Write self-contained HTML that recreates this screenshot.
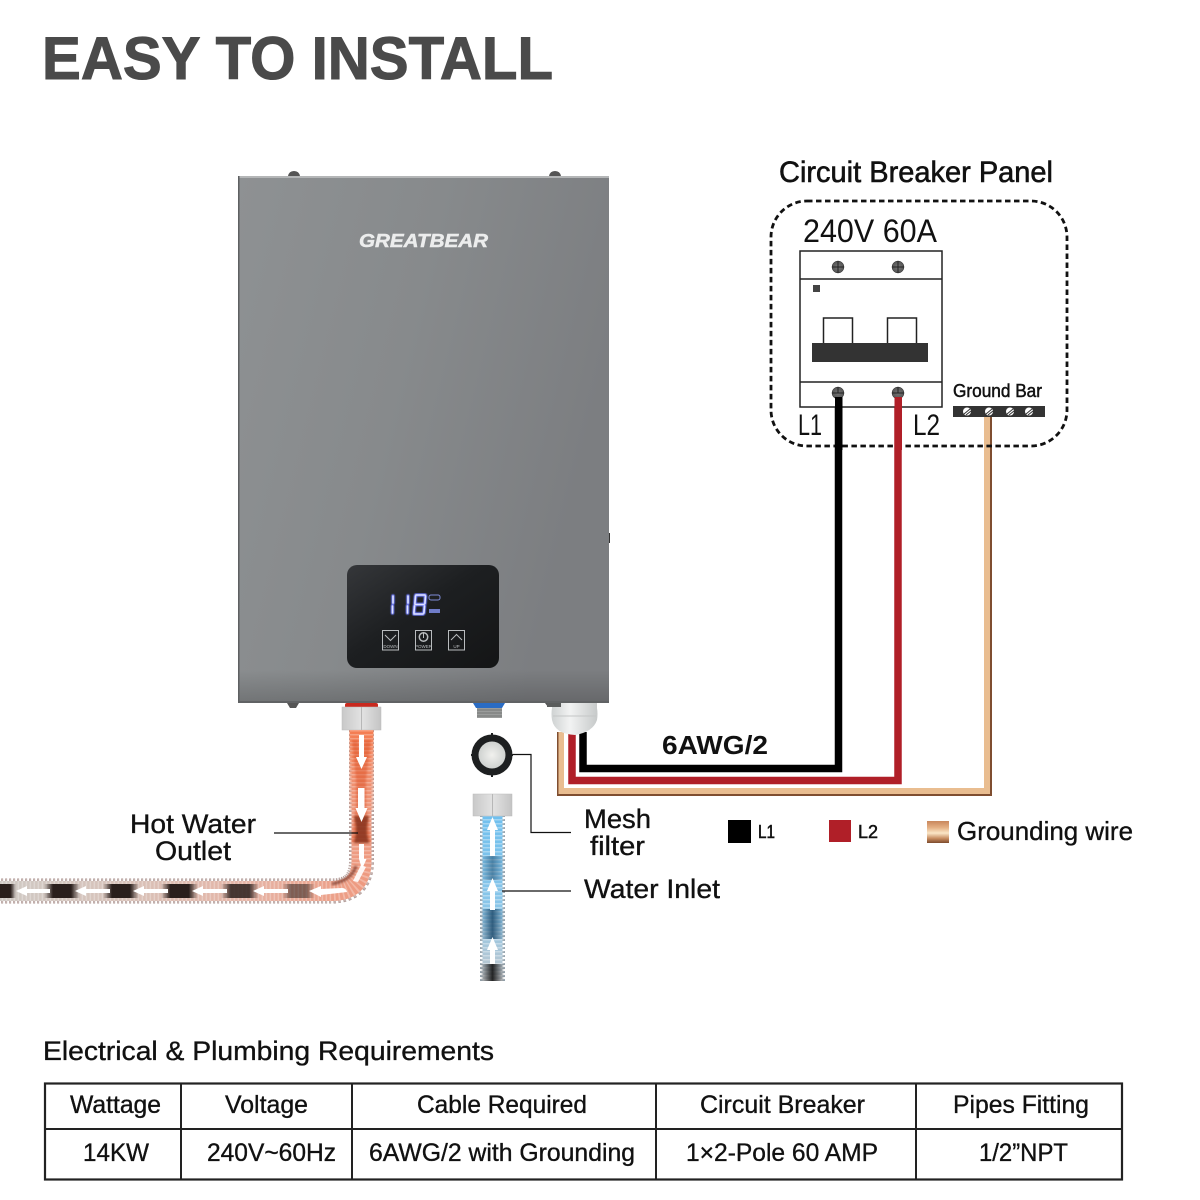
<!DOCTYPE html>
<html><head><meta charset="utf-8"><style>
html,body{margin:0;padding:0;background:#fff}
svg{display:block}
text{font-family:"Liberation Sans",sans-serif;fill:#111}
.s{stroke:#111;stroke-width:.35}
</style></head><body>
<svg width="1200" height="1200" viewBox="0 0 1200 1200" xmlns="http://www.w3.org/2000/svg">
<defs>
<linearGradient id="body" x1="0" y1="0" x2="1" y2="0.35">
<stop offset="0" stop-color="#8e9193"/><stop offset=".5" stop-color="#878a8c"/><stop offset="1" stop-color="#7c7e81"/>
</linearGradient>
<linearGradient id="bottom" x1="0" y1="0" x2="0" y2="1">
<stop offset="0" stop-color="#000" stop-opacity="0"/><stop offset="1" stop-color="#000" stop-opacity=".18"/>
</linearGradient>
<linearGradient id="disp" x1="0" y1="0" x2="1" y2="1">
<stop offset="0" stop-color="#35373a"/><stop offset=".45" stop-color="#1d1f21"/><stop offset="1" stop-color="#141516"/>
</linearGradient>
<linearGradient id="hot" gradientUnits="userSpaceOnUse" x1="361" y1="0" x2="0" y2="0">
<stop offset="0" stop-color="#ee9a80"/><stop offset=".3" stop-color="#e6b3a4"/><stop offset=".65" stop-color="#d8c2b9"/><stop offset="1" stop-color="#cfc9c4"/>
</linearGradient>
<linearGradient id="hotv" gradientUnits="userSpaceOnUse" x1="0" y1="730" x2="0" y2="860">
<stop offset="0" stop-color="#f47c50"/><stop offset="1" stop-color="#ee9a80" stop-opacity="0"/>
</linearGradient>
<linearGradient id="blue" gradientUnits="userSpaceOnUse" x1="0" y1="815" x2="0" y2="981">
<stop offset="0" stop-color="#70c0ee"/><stop offset=".6" stop-color="#8cc6e8"/><stop offset="1" stop-color="#c4c8cc"/>
</linearGradient>
<linearGradient id="metal" x1="0" y1="0" x2="1" y2="0">
<stop offset="0" stop-color="#c8c8c8"/><stop offset=".49" stop-color="#e2e2e2"/><stop offset=".5" stop-color="#8f8f8f"/><stop offset=".52" stop-color="#e2e2e2"/><stop offset="1" stop-color="#c4c4c4"/>
</linearGradient>
<linearGradient id="gland" x1="0" y1="0" x2="1" y2="0">
<stop offset="0" stop-color="#cfd2d2"/><stop offset=".4" stop-color="#f2f3f3"/><stop offset="1" stop-color="#c6c9c9"/>
</linearGradient>
<linearGradient id="cop" x1="0" y1="0" x2="0" y2="1">
<stop offset="0" stop-color="#c9875c"/><stop offset=".3" stop-color="#e4b084"/><stop offset=".55" stop-color="#fbe6c6"/><stop offset=".8" stop-color="#c58a5e"/><stop offset="1" stop-color="#7c4a2c"/>
</linearGradient>
<linearGradient id="hgH" x1="0" y1="0" x2="1" y2="0">
<stop offset="0" stop-color="#2a1f1c" stop-opacity="0"/><stop offset=".25" stop-color="#2a1f1c"/><stop offset=".75" stop-color="#2a1f1c"/><stop offset="1" stop-color="#2a1f1c" stop-opacity="0"/>
</linearGradient>
<linearGradient id="hgV" x1="0" y1="0" x2="1" y2="0">
<stop offset="0" stop-color="#1d4a6c" stop-opacity="0"/><stop offset=".5" stop-color="#1d4a6c"/><stop offset="1" stop-color="#1d4a6c" stop-opacity="0"/>
</linearGradient>
<linearGradient id="hgK" x1="0" y1="0" x2="1" y2="0">
<stop offset="0" stop-color="#111" stop-opacity="0"/><stop offset=".5" stop-color="#111"/><stop offset="1" stop-color="#111" stop-opacity="0"/>
</linearGradient>
<radialGradient id="screw"><stop offset="0" stop-color="#777"/><stop offset="1" stop-color="#555"/></radialGradient>
<radialGradient id="mesh"><stop offset="0" stop-color="#f1f1ee"/><stop offset="1" stop-color="#cfd2d0"/></radialGradient>
<filter id="b1"><feGaussianBlur stdDeviation="1"/></filter>
<filter id="glow"><feGaussianBlur stdDeviation="0.5"/></filter>
</defs>

<text x="42" y="79" font-size="60" font-weight="700" textLength="511" lengthAdjust="spacingAndGlyphs" style="fill:#4a4a4a;stroke:#4a4a4a;stroke-width:1">EASY TO INSTALL</text>

<!-- heater -->
<path d="M288 176q1-5 6-5t6 5zM549 176q1-5 6-5t6 5z" fill="#555"/>
<rect x="607" y="533" width="3" height="10" fill="#333"/>
<path d="M287 703h12l-3 5h-6zM545 703h12l-3 4h-6z" fill="#555"/>
<rect x="238" y="176" width="371" height="527" fill="url(#body)"/>
<rect x="238" y="670" width="371" height="33" fill="url(#bottom)"/>
<rect x="238" y="176" width="371" height="2" fill="#b4b6b7"/>
<rect x="238" y="176" width="1.500" height="527" fill="#5e6062"/>
<rect x="238" y="701" width="371" height="2" fill="#606264"/>
<text x="359" y="247" font-size="18" font-weight="700" font-style="italic" textLength="129" lengthAdjust="spacingAndGlyphs" style="fill:#eceded;stroke:#eceded;stroke-width:.5">GREATBEAR</text>

<rect x="347" y="565" width="152" height="103" rx="10" fill="url(#disp)"/>
<g stroke="#6f7dff" stroke-width="3.400" fill="none" stroke-linecap="round" filter="url(#glow)">
<path d="M393 596v7M392.500 606v7M408 596v7M407.500 606v7"/>
<path d="M416 595h9M415 604.500h9M414 614h9M415.500 596l-.6 7.500M425.500 596l-.6 7.500M414.500 606l-.6 7M424.500 606l-.6 7"/>
</g>
<g stroke="#dfe3ff" stroke-width="1.600" fill="none" stroke-linecap="round">
<path d="M393 596v7M392.500 606v7M408 596v7M407.500 606v7"/>
<path d="M416 595h9M415 604.500h9M414 614h9M415.500 596l-.6 7.500M425.500 596l-.6 7.500M414.500 606l-.6 7M424.500 606l-.6 7"/>
</g>
<rect x="429" y="595" width="11" height="5" rx="2" fill="none" stroke="#7f8cd8" stroke-width="1"/>
<rect x="429" y="609" width="11" height="4" fill="#6f7cc8"/>
<g fill="none" stroke="#b9bcbe" stroke-width="1">
<rect x="382.500" y="630.500" width="16" height="19.500"/><path d="M385 635l5.500 5.500 5.500-5.500"/>
<rect x="415.500" y="630.500" width="16" height="19.500"/><circle cx="423.500" cy="637" r="4.200" stroke-width="1.500"/><path d="M423.500 633v5"/>
<rect x="448.500" y="630.500" width="16" height="19.500"/><path d="M451 640l5.500-5.500 5.500 5.500"/>
</g>
<g font-size="4.500" text-anchor="middle">
<text x="390.500" y="648" style="fill:#b9bcbe">DOWN</text>
<text x="423.500" y="648" style="fill:#b9bcbe">POWER</text>
<text x="456.500" y="648" style="fill:#b9bcbe">UP</text>
</g>

<!-- ports -->
<rect x="345" y="703" width="33" height="5" rx="2" fill="#c9291e"/>
<rect x="342" y="707" width="39" height="23" fill="url(#metal)" stroke="#bbb" stroke-width=".5"/>
<path d="M473 703h32l-3 5h-26z" fill="#2a6cc4"/>
<rect x="477" y="708" width="25" height="10" fill="#9a9c9b"/>
<path d="M477 710h25M477 713h25M477 716h25" stroke="#747675" stroke-width="1"/>
<circle cx="492" cy="755" r="20.500" fill="#1d1f20"/>
<circle cx="492" cy="755" r="13.500" fill="url(#mesh)"/>
<path d="M492 733v3M492 774v3M471 755h3M510 755h3" stroke="#1d1f20" stroke-width="2"/>

<!-- wires -->
<path d="M561 732V792H988V415" fill="none" stroke="#7f4e30" stroke-width="8"/>
<path d="M561.500 732V791H987V415" fill="none" stroke="#e9bd90" stroke-width="6"/>
<path d="M572 732V780.500H898V397" fill="none" stroke="#b01f28" stroke-width="7.500"/>
<path d="M583 732V768.500H838.500V397" fill="none" stroke="#000" stroke-width="7.500"/>
<path d="M565 732V787H983" fill="none" stroke="#fff" stroke-width="2"/>

<!-- gland -->
<path d="M552 703h45v5q1 6 0 12q-4 12-22 15q-20-1-23-15q-1-6 0-12z" fill="url(#gland)"/>
<rect x="547" y="703" width="14" height="4" fill="#5a5c5c"/>
<path d="M553 716h43" stroke="#c4c6c6" stroke-width="1" fill="none"/>

<!-- hot pipe -->
<g fill="none">
<path id="hp" d="M361.500 730V861Q361.500 891 331.500 891H0" stroke="#6b4038" stroke-width="25" stroke-dasharray="2 2" opacity=".55"/>
<path d="M361.500 730V861Q361.500 891 331.500 891H0" stroke="url(#hot)" stroke-width="20"/>
<path d="M361.500 730V810" stroke="url(#hotv)" stroke-width="24"/>
<path d="M361.500 730V861Q361.500 891 331.500 891H0" stroke="#fff" stroke-width="24" stroke-dasharray="1.500 2.500" opacity=".28"/>
<path d="M356 866Q352 880 332 884" stroke="#6e2f22" stroke-width="3" opacity=".7" filter="url(#b1)"/>
</g>
<path d="M352 740h6l3 26 3-26h7l-5 40v25l5 38h-20l5-38v-25z" fill="#d9481f" opacity=".45" filter="url(#b1)"/>
<path d="M354 816h15l-2 10v8l2 9h-15l2-9v-8z" fill="#7a2a16" opacity=".75" filter="url(#b1)"/>
<rect x="-6" y="884" width="22" height="14" fill="url(#hgH)"/>
<rect x="44" y="884" width="36" height="14" fill="url(#hgH)"/>
<rect x="103" y="884" width="36" height="14" fill="url(#hgH)"/>
<rect x="161" y="884" width="37" height="14" fill="url(#hgH)"/>
<rect x="221" y="884" width="38" height="14" fill="url(#hgH)" opacity=".85"/>
<rect x="282" y="884" width="33" height="14" fill="url(#hgH)" opacity=".55"/>
<g fill="#fff">
<path d="M16 891l11-5v3h23v4H27v3z"/>
<path d="M75 891l11-5v3h24v4H86v3z"/>
<path d="M133 891l11-5v3h24v4h-24v3z"/>
<path d="M192 891l11-5v3h24v4h-24v3z"/>
<path d="M253 891l11-5v3h24v4h-24v3z"/>
<path d="M309 891l12-5v3l21-1q4 0 5 4l-26 3v2z"/>
<path d="M359 735h5v22h3l-5.500 12-5.500-12h3z"/>
<path d="M358 788h6.500v20h3l-6 14-6-14h2.500z"/>
<path d="M359 844h5v15h2.500l-4.500 10-3-10h0z"/>
<path d="M361 865l5 2-8 15-5-1z" opacity=".9"/>
</g>

<!-- blue pipe -->
<g fill="none">
<path d="M492.500 815V981" stroke="#2f4a5e" stroke-width="25" stroke-dasharray="2 2" opacity=".55"/>
<path d="M492.500 815V981" stroke="url(#blue)" stroke-width="20"/>
<path d="M492.500 815V981" stroke="#fff" stroke-width="24" stroke-dasharray="1.500 2.500" opacity=".35"/>
</g>
<rect x="480" y="856" width="25" height="24" fill="url(#hgV)" opacity=".55"/>
<rect x="480" y="909" width="25" height="30" fill="url(#hgV)" opacity=".85"/>
<rect x="480" y="964" width="25" height="17" fill="url(#hgK)" opacity=".9"/>
<g fill="#fff">
<path d="M492.500 817l5.500 13h-3v26h-5v-26h-3z"/>
<path d="M492.500 878l5.500 13h-3v19h-5v-19h-3z"/>
<path d="M492.500 937l5.500 13h-3v14h-5v-14h-3z"/>
</g>
<rect x="473" y="794" width="39" height="22" fill="url(#metal)" stroke="#bbb" stroke-width=".5"/>

<!-- leader lines -->
<g fill="none" stroke="#111" stroke-width="1.200">
<path d="M274 833H358"/>
<path d="M513 754.500H531V832.500H571"/>
<path d="M502 891H571"/>
</g>

<!-- labels -->
<text class="s" x="130" y="833" font-size="27" textLength="126" lengthAdjust="spacingAndGlyphs">Hot Water</text>
<text class="s" x="155" y="860" font-size="27" textLength="76" lengthAdjust="spacingAndGlyphs">Outlet</text>
<text class="s" x="584" y="828" font-size="27" textLength="67" lengthAdjust="spacingAndGlyphs">Mesh</text>
<text class="s" x="590" y="855" font-size="27" textLength="55" lengthAdjust="spacingAndGlyphs">filter</text>
<text class="s" x="584" y="898" font-size="27" textLength="136" lengthAdjust="spacingAndGlyphs">Water Inlet</text>
<text x="662" y="754" font-size="26" font-weight="700" textLength="106" lengthAdjust="spacingAndGlyphs">6AWG/2</text>

<!-- legend -->
<rect x="728" y="820" width="23" height="23" fill="#000"/>
<text x="758" y="838" font-size="18" textLength="17" lengthAdjust="spacingAndGlyphs" stroke="#111" stroke-width=".5">L1</text>
<rect x="829" y="820" width="22" height="22" fill="#b01f28"/>
<text x="858" y="838" font-size="18" textLength="20" lengthAdjust="spacingAndGlyphs" stroke="#111" stroke-width=".5">L2</text>
<rect x="927" y="821" width="22" height="22" fill="url(#cop)"/>
<text class="s" x="957" y="840" font-size="26" textLength="176" lengthAdjust="spacingAndGlyphs">Grounding wire</text>

<!-- breaker -->
<text x="779" y="182" font-size="30" textLength="274" lengthAdjust="spacingAndGlyphs" stroke="#111" stroke-width=".6">Circuit Breaker Panel</text>
<rect x="771" y="201" width="296" height="245" rx="36" fill="none" stroke="#111" stroke-width="2.800" stroke-dasharray="5.500 3.500"/>
<text x="803" y="242" font-size="32" textLength="134" lengthAdjust="spacingAndGlyphs">240V 60A</text>
<rect x="800" y="251" width="142" height="156" fill="#fff" stroke="#222" stroke-width="1.500"/>
<path d="M800 279H942M800 382H942" stroke="#222" stroke-width="1.500"/>
<rect x="813" y="285" width="7" height="7" fill="#444"/>
<rect x="823.500" y="318" width="29" height="26" fill="#fff" stroke="#222" stroke-width="1.500"/>
<rect x="887.500" y="318" width="29" height="26" fill="#fff" stroke="#222" stroke-width="1.500"/>
<rect x="812" y="343" width="116" height="19" fill="#333"/>
<g fill="url(#screw)" stroke="#333" stroke-width=".5">
<circle cx="838" cy="267" r="6"/><circle cx="898" cy="267" r="6"/>
<circle cx="838" cy="393" r="6"/><circle cx="898" cy="393" r="6"/>
</g>
<path d="M838 261v12M832 267h12M898 261v12M892 267h12M838 387v6M832 393h12M898 387v6M892 393h12" stroke="#222" stroke-width="1"/>
<rect x="835" y="397" width="7.500" height="53" fill="#000"/>
<rect x="894.500" y="397" width="7.500" height="53" fill="#b01f28"/>
<text x="798" y="435" font-size="30" textLength="24" lengthAdjust="spacingAndGlyphs">L1</text>
<text x="913" y="435" font-size="30" textLength="27" lengthAdjust="spacingAndGlyphs">L2</text>
<text x="953" y="397" font-size="18" textLength="89" lengthAdjust="spacingAndGlyphs" stroke="#111" stroke-width=".5">Ground Bar</text>
<rect x="953" y="406" width="92" height="11" fill="#333"/>
<g fill="#fff">
<circle cx="967" cy="411.500" r="4"/><circle cx="989" cy="411.500" r="4"/><circle cx="1010" cy="411.500" r="4"/><circle cx="1029" cy="411.500" r="4"/>
</g>
<path d="M964 414l6-5M966 415l5-4M986 414l6-5M988 415l5-4M1007 414l6-5M1009 415l5-4M1026 414l6-5M1028 415l5-4" stroke="#333" stroke-width="1"/>

<!-- table -->
<text class="s" x="43" y="1060" font-size="27" textLength="451" lengthAdjust="spacingAndGlyphs">Electrical &amp; Plumbing Requirements</text>
<rect x="45" y="1083.500" width="1077" height="96" fill="none" stroke="#222" stroke-width="2.200"/>
<path d="M45 1129H1122M181 1083V1179M352 1083V1179M656 1083V1179M916 1083V1179" stroke="#222" stroke-width="2"/>
<g font-size="25" class="s">
<text x="70" y="1113" textLength="91" lengthAdjust="spacingAndGlyphs">Wattage</text>
<text x="225" y="1113" textLength="83" lengthAdjust="spacingAndGlyphs">Voltage</text>
<text x="417" y="1113" textLength="170" lengthAdjust="spacingAndGlyphs">Cable Required</text>
<text x="700" y="1113" textLength="165" lengthAdjust="spacingAndGlyphs">Circuit Breaker</text>
<text x="953" y="1113" textLength="136" lengthAdjust="spacingAndGlyphs">Pipes Fitting</text>
<text x="83" y="1161" textLength="66" lengthAdjust="spacingAndGlyphs">14KW</text>
<text x="207" y="1161" textLength="129" lengthAdjust="spacingAndGlyphs">240V~60Hz</text>
<text x="369" y="1161" textLength="266" lengthAdjust="spacingAndGlyphs">6AWG/2 with Grounding</text>
<text x="686" y="1161" textLength="192" lengthAdjust="spacingAndGlyphs">1×2-Pole 60 AMP</text>
<text x="979" y="1161" textLength="89" lengthAdjust="spacingAndGlyphs">1/2”NPT</text>
</g>
</svg>
</body></html>
